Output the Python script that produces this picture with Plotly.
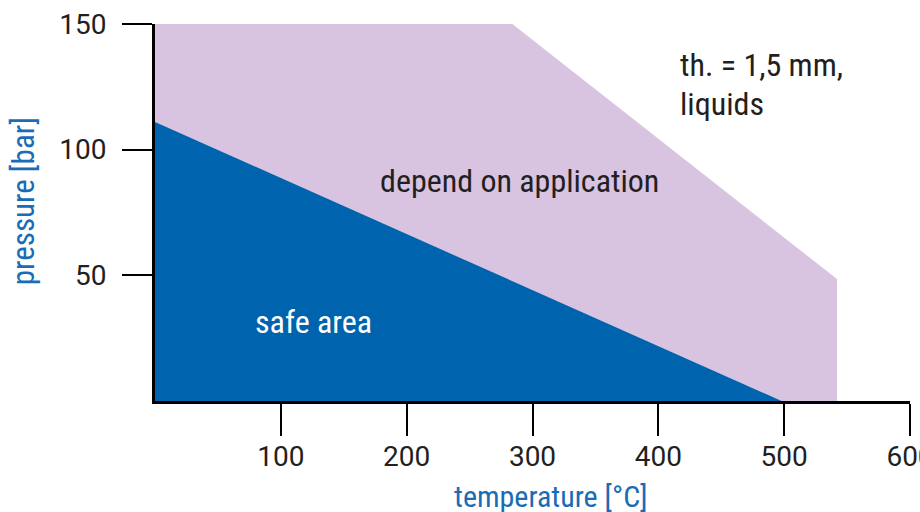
import plotly.graph_objects as go

# Region outlines (temperature °C, pressure bar)
app_x = [0, 284, 542, 542, 0]
app_y = [150, 150, 48.5, 0, 0]
safe_x = [0, 0, 498]
safe_y = [0, 111, 0]

x_ticks = [100, 200, 300, 400, 500, 600]
y_ticks = [50, 100, 150]

FONT_COND = "Liberation Sans Narrow, Roboto Condensed, Roboto, sans-serif"
FONT_TICK = "Roboto, sans-serif"
LILAC = "#d8c4e0"
BLUE = "#0063ae"
TITLE_BLUE = "#1a6cb6"
TEXT = "#231f20"

fig = go.Figure()
fig.add_trace(go.Scatter(x=app_x, y=app_y, fill="toself", fillcolor=LILAC,
                         mode="none", hoverinfo="skip", showlegend=False))
fig.add_trace(go.Scatter(x=safe_x, y=safe_y, fill="toself", fillcolor=BLUE,
                         mode="none", hoverinfo="skip", showlegend=False))

annos = [
    dict(x=290, y=87.5, text="depend on application", xanchor="center", yanchor="middle",
         font=dict(size=32, color=TEXT)),
    dict(x=126, y=31.4, text="safe area", xanchor="center", yanchor="middle",
         font=dict(size=32, color="white")),
    dict(x=416, y=133.7, text="th. = 1,5 mm,", xanchor="left", yanchor="middle",
         font=dict(size=32, color=TEXT)),
    dict(x=416, y=118.2, text="liquids", xanchor="left", yanchor="middle",
         font=dict(size=32, color=TEXT)),
    dict(xref="paper", yref="paper", x=-0.1748, y=0.53, text="pressure [bar]",
         textangle=-90, xanchor="center", yanchor="middle",
         font=dict(size=31, color=TITLE_BLUE)),
    dict(xref="paper", yref="paper", x=0.5245, y=-0.2546, text="temperature [°C]",
         xanchor="center", yanchor="middle",
         font=dict(size=30, color=TITLE_BLUE)),
]
for a in annos:
    a.setdefault("xref", "x")
    a.setdefault("yref", "y")
    a["showarrow"] = False
    a["font"]["family"] = FONT_COND
    fig.add_annotation(**a)

fig.update_layout(
    width=920, height=512,
    margin=dict(l=155, r=10, t=24, b=111, autoexpand=False),
    plot_bgcolor="white", paper_bgcolor="white",
    font=dict(family=FONT_COND, size=32, color=TEXT),
    showlegend=False,
)
fig.update_xaxes(range=[0, 600], tickvals=x_ticks, ticktext=[str(v) for v in x_ticks],
                 automargin=False, ticklabeloverflow="allow",
                 showgrid=False, zeroline=False, showline=True, linecolor="black",
                 linewidth=3, ticks="outside", ticklen=32, tickwidth=1.5,
                 tickcolor="black", ticklabelstandoff=-4,
                 tickfont=dict(family=FONT_TICK, size=28, color=TEXT))
fig.update_yaxes(range=[0, 150], tickvals=y_ticks, ticktext=[str(v) for v in y_ticks],
                 automargin=False, ticklabeloverflow="allow",
                 showgrid=False, zeroline=False, showline=True, linecolor="black",
                 linewidth=3, ticks="outside", ticklen=30, tickwidth=1.5,
                 tickcolor="black", ticklabelstandoff=10,
                 tickfont=dict(family=FONT_TICK, size=28, color=TEXT))

fig.write_html("out.html", config={"displayModeBar": False},
               post_script="document.body.style.margin='0';document.body.style.overflow='hidden';")
